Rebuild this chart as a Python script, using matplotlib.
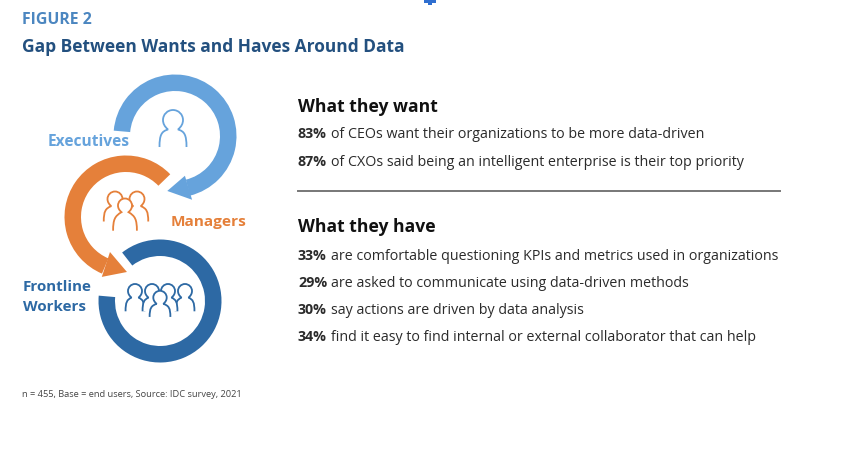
import matplotlib
matplotlib.use('Agg')
import matplotlib.pyplot as plt
from matplotlib.patches import Wedge, Polygon, PathPatch, Rectangle
from matplotlib.path import Path
import numpy as np

plt.rcParams['font.family'] = ['Open Sans', 'DejaVu Sans']

LIGHT = '#66a3dc'
ORANGE = '#e5803a'
DARK = '#2d69a4'
NAVY = '#23507f'
TEXT = '#2b2b2b'

want_pcts = ['83%', '87%']
want_texts = ['of CEOs want their organizations to be more data-driven',
              'of CXOs said being an intelligent enterprise is their top priority']
want_ys = [138, 166]

have_pcts = ['33%', '29%', '30%', '34%']
have_texts = ['are comfortable questioning KPIs and metrics used in organizations',
              'are asked to communicate using data-driven methods',
              'say actions are driven by data analysis',
              'find it easy to find internal or external collaborator that can help']
have_ys = [260, 287, 314, 341]

fig = plt.figure(figsize=(8.66, 4.56), dpi=100)
ax = fig.add_axes([0, 0, 1, 1])
ax.set_xlim(0, 866)
ax.set_ylim(456, 0)
ax.axis('off')


def ring(cx, cy, start, end, color, head=None):
    ax.add_patch(Wedge((cx, cy), 61.5, start, end, width=16.5, color=color, lw=0))
    if head:
        pts = []
        for r, a in head:
            pts.append((cx + r * np.cos(np.radians(a)), cy + r * np.sin(np.radians(a))))
        ax.add_patch(Polygon(pts, closed=True, color=color, lw=0))


def person(x, y, s, color, bw=1.4, bh=2.9, z=3):
    # x, y is the head centre, s the head radius
    k = 0.5523
    verts = [(-bw, bh), (-bw, bh * 0.55), (-bw * 0.85, bh * 0.42), (-0.5, 0.95),
             (-0.85, 0.65), (-1.0, 0.35), (-1.0, 0.0),
             (-1.0, -k), (-k, -1.0), (0, -1.0),
             (k, -1.0), (1.0, -k), (1.0, 0.0),
             (1.0, 0.35), (0.85, 0.65), (0.5, 0.95),
             (bw * 0.85, bh * 0.42), (bw, bh * 0.55), (bw, bh)]
    codes = [Path.MOVETO] + [Path.CURVE4] * (len(verts) - 1)
    verts = np.array(verts) * s + [x, y]
    ax.add_patch(PathPatch(Path(verts, codes), facecolor='white', edgecolor=color, lw=1.3, zorder=z))


ring(175, 137, 185, 436, LIGHT, [(41, 76), (66, 75), (55.5, 98)])
ring(126, 218, 113, 316, ORANGE, [(38.5, 114.6), (64.6, 112), (55, 89)])
ring(160, 302, 232, 545, DARK)

person(173, 121, 10, LIGHT, bw=1.35, bh=2.7)
for hx in [115, 137]:
    person(hx, 200, 7.5, ORANGE, bw=1.5, bh=3.0)
person(125, 206.5, 7, ORANGE, bw=1.7, bh=3.6, z=4)
for hx in [135, 185, 152, 168]:
    person(hx, 292, 7, DARK, bw=1.35, bh=2.9)
person(160, 298.5, 6.7, DARK, bw=1.55, bh=2.9, z=4)

ax.add_patch(Rectangle((424, 0), 12, 4, color='#2f6fd0', lw=0))
ax.add_patch(Rectangle((428, 4), 4, 2, color='#2f6fd0', lw=0))

ax.text(22, 19.5, 'FIGURE 2', fontsize=11.4, fontweight='bold', color='#4b86c0', va='center')
ax.text(22, 46.5, 'Gap Between Wants and Haves Around Data', fontsize=12.5, fontweight='bold', color=NAVY, va='center')

ax.text(48, 142, 'Executives', fontsize=11.2, fontweight='bold', color=LIGHT, va='center')
ax.text(171, 222, 'Managers', fontsize=11.1, fontweight='bold', color=ORANGE, va='center')
ax.text(23, 287, 'Frontline', fontsize=10.9, fontweight='bold', color=DARK, va='center')
ax.text(23, 307, 'Workers', fontsize=10.9, fontweight='bold', color=DARK, va='center')

ax.text(298, 107, 'What they want', fontsize=12.6, fontweight='bold', color='#111111', va='center')
ax.text(298, 227, 'What they have', fontsize=12.6, fontweight='bold', color='#111111', va='center')
ax.plot([298, 780], [192, 192], color='#777777', lw=1.4)

fig.canvas.draw()
rend = fig.canvas.get_renderer()


def stat_row(pct, txt, y):
    t = ax.text(298, y, pct, fontsize=10.3, fontweight='bold', color=TEXT, va='baseline')
    x1 = t.get_window_extent(rend).x1
    ax.text(x1 + 4, y, txt, fontsize=10.3, color=TEXT, va='baseline')


for pct, txt, y in zip(want_pcts, want_texts, want_ys):
    stat_row(pct, txt, y)
for pct, txt, y in zip(have_pcts, have_texts, have_ys):
    stat_row(pct, txt, y)

ax.text(22, 395, 'n = 455, Base = end users, Source: IDC survey, 2021', fontsize=6.7, color='#444444', va='center')

fig.savefig('out.png', dpi=100)
